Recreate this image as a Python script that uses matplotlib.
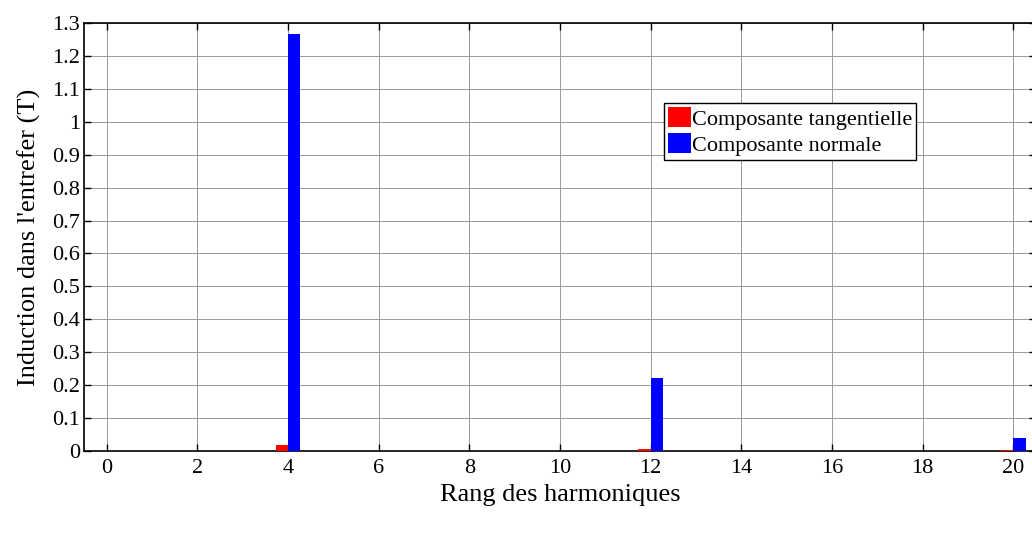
import matplotlib
matplotlib.use("Agg")
import matplotlib.pyplot as plt
import numpy as np

plt.rcParams['font.family'] = ['Liberation Serif', 'DejaVu Serif']

harmonics = list(range(0, 21))
tangentielle = [0.0005, 0.0008, 0.0003, 0.0008, 0.018, 0.0008, 0.0003, 0.0008, 0.0003, 0.0008,
                0.0003, 0.0008, 0.007, 0.0008, 0.0003, 0.0008, 0.0003, 0.0008, 0.0003, 0.0008, 0.004]
normale = [0.0012, 0.0015, 0.0005, 0.0015, 1.268, 0.0015, 0.0005, 0.0015, 0.0005, 0.0015,
           0.0005, 0.0015, 0.222, 0.0015, 0.0005, 0.0015, 0.0005, 0.0015, 0.0005, 0.0015, 0.040]
xticks = list(range(0, 21, 2))
yticks = [round(0.1 * i, 1) for i in range(14)]

fig = plt.figure(figsize=(10.32, 5.36), dpi=100)
ax = fig.add_axes([84/1032, 1 - 451/536, (1036 - 84)/1032, (451 - 23)/536])

x = np.array(harmonics)
w = 0.27
ax.bar(x - w/2, tangentielle, width=w, color='#ff0000', label='Composante tangentielle', zorder=3)
ax.bar(x + w/2, normale, width=w, color='#0000ff', label='Composante normale', zorder=3)

ax.set_xlim(-0.5, 20.5)
ax.set_ylim(0, 1.3)
ax.set_xticks(xticks)
ax.set_yticks(yticks)
ax.set_yticklabels(['0' if v == 0 else ('1' if v == 1 else f'{v:g}') for v in yticks])
ax.tick_params(direction='in', labelsize=16, length=5, width=1, top=True, right=True, pad=3)
ax.tick_params(axis='x', pad=6)
ax.grid(True, color='#999999', linewidth=0.7, zorder=0)
for s in ax.spines.values():
    s.set_linewidth(1.2)

ax.set_xlabel('Rang des harmoniques', fontsize=19, labelpad=4)
ax.set_ylabel("Induction dans l'entrefer (T)", fontsize=19, labelpad=8)

leg = ax.legend(loc='upper left', bbox_to_anchor=(664/1032, 1 - 103/536), bbox_transform=fig.transFigure,
                fontsize=16, frameon=True, fancybox=False, edgecolor='black', framealpha=1,
                handlelength=1.0, handleheight=1.0, handletextpad=0.05, borderpad=0.2,
                labelspacing=0.15, borderaxespad=0)
leg.get_frame().set_linewidth(1.0)

fig.savefig('out.png', dpi=100)
